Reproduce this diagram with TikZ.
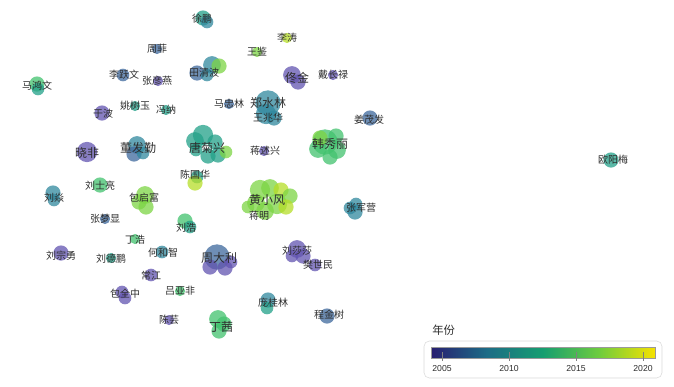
\documentclass[tikz,border=0pt]{standalone}
\usepackage{fontspec}
\setsansfont{Liberation Sans}
\newfontfamily\cjk{Noto Sans CJK SC}
\usepackage{tikz}
\usetikzlibrary{positioning}

\definecolor{vA}{RGB}{98,84,176}
\definecolor{vB}{RGB}{62,104,156}
\definecolor{vC}{RGB}{48,136,158}
\definecolor{vD}{RGB}{34,160,136}
\definecolor{vE}{RGB}{66,194,110}
\definecolor{vF}{RGB}{124,212,68}
\definecolor{vG}{RGB}{182,222,40}
\definecolor{bar0}{RGB}{40,30,112}
\definecolor{bar1}{RGB}{28,108,134}
\definecolor{bar2}{RGB}{22,158,112}
\definecolor{bar3}{RGB}{110,204,62}
\definecolor{bar4}{RGB}{246,226,0}
\definecolor{txt}{RGB}{45,45,45}

\pgfdeclarehorizontalshading{yearbar}{100bp}{color(0bp)=(bar0); color(25bp)=(bar0);
  color(37.5bp)=(bar1); color(50bp)=(bar2); color(62.5bp)=(bar3); color(75bp)=(bar4); color(100bp)=(bar4)}

\begin{document}
\begin{tikzpicture}[
    x=0.75pt, y=-0.75pt,
    bubble/.style={fill=#1, fill opacity=0.75, draw=none},
    authorlbl/.style={font=\cjk\fontsize{7.5}{8}\selectfont, text=txt, inner sep=0pt},
    biglbl/.style={font=\cjk\fontsize{9}{10}\selectfont, text=txt, inner sep=0pt},
    ticklbl/.style={font=\sffamily\fontsize{6.5}{7}\selectfont, text=txt, inner sep=0pt}
]

\useasboundingbox (0,0) rectangle (674,386);

% bubbles: x/y/radius/colour
\foreach \x/\y/\r/\c in {
    203/18/6/vD, 207/22/5/vC,
    157/49/4/vB, 123/75/5/vB, 158/81/4/vA,
    212/65/7/vC, 219/66/6/vF, 197/73/6/vB, 207/75/5/vC,
    37/84/6/vE, 38/89/5/vD,
    102/113/6/vA, 135/106/4/vD, 166/110/4/vD, 229/104/4/vB,
    268/103/10/vC, 266/114/8/vC, 274/118/6/vC,
    287/38/4/vG, 257/52/4/vF,
    292/75/7/vA, 298/82/6/vA, 333/75/4/vA, 370/118/6/vB,
    87/152/8/vA,
    137/145/7/vC, 134/154/6/vB, 143/153/5/vC,
    203/135/8/vD, 195/141/7/vD, 215/142/6/vD, 208/156/6/vD, 218/155/6/vD, 226/152/5/vF, 196/150/5/vD,
    197/177/5/vD, 195/183/6/vG,
    100/185/6/vE, 53/193/6/vC, 54/200/5/vC,
    145/195/7/vF, 146/207/6/vF, 139/202/6/vF,
    105/219/4/vB, 185/221/6/vE, 190/227/5/vD, 135/239/4/vE,
    162/252/5/vC,
    217/257/10/vB, 210/267/6/vA, 225/268/6/vA, 231/262/5/vA,
    61/253/6/vA, 111/258/4/vD, 151/275/5/vA,
    122/292/5/vA, 125/298/5/vA, 180/291/4/vE, 169/320/4/vA,
    218/319/7/vE, 224/324/6/vE, 219/331/6/vE,
    264/151/4/vA,
    325/142/10/vE, 318/149/7/vE, 337/150/7/vE, 330/157/6/vE, 320/138/6/vF, 336/136/6/vE,
    260/190/8/vF, 270/188/7/vF, 281/190/6/vG, 290/196/6/vF, 256/203/7/vF,
    265/211/7/vF, 277/204/8/vF, 286/207/6/vG, 248/207/5/vF,
    356/204/5/vC, 355/212/6/vC, 350/208/5/vC,
    297/249/7/vA, 303/256/6/vA, 292/256/5/vA, 315/265/5/vA,
    268/300/6/vC, 267/308/5/vD, 327/316/6/vB,
    611/160/6/vD}
    \fill[bubble=\c] (\x,\y) circle[radius=\r*0.95pt];

% author names
\node[authorlbl] (xupeng) at (202,19) {徐鹏};
\node[authorlbl] (zhoufei) at (157,49) {周菲};
\node[authorlbl] (liyuewen) at (124,75) {李跃文};
\node[authorlbl] (zhangyanyan) at (157,81) {张彦燕};
\node[authorlbl] (tianqingbo) at (204,73) {田清波};
\node[authorlbl] (mahongwen) at (37,86) {马鸿文};
\node[authorlbl] (yubo) at (103,114) {于波};
\node[authorlbl] (yaoshuyu) at (135,106) {姚树玉};
\node[authorlbl] (fengna) at (166,110) {冯纳};
\node[authorlbl] (mazhonglin) at (229,104) {马忠林};
\node[biglbl] (zhengshuilin) at (268,103) {郑水林};
\node[authorlbl] (wangzhaohua) at (268,118) {王兆华};
\node[authorlbl] (litao) at (287,38) {李涛};
\node[authorlbl] (wangjian) at (257,52) {王鉴};
\node[biglbl] (tongjin) at (297,78) {佟金};
\node[authorlbl] (daichanglu) at (333,75) {戴长禄};
\node[authorlbl] (jiangmaofa) at (369,120) {姜茂发};
\node[biglbl] (xiaofei) at (87,153) {晓非};
\node[biglbl] (dongfaqin) at (138,148) {董发勤};
\node[biglbl] (tangjuxing) at (207,148) {唐菊兴};
\node[authorlbl] (chenguohua) at (195,175) {陈国华};
\node[authorlbl] (liushiliang) at (100,186) {刘士亮};
\node[authorlbl] (liuyan) at (54,198) {刘焱};
\node[authorlbl] (baoqifu) at (144,198) {包启富};
\node[authorlbl] (zhangmengxian) at (105,219) {张梦显};
\node[authorlbl] (liuhao) at (186,228) {刘浩};
\node[authorlbl] (dinghao) at (135,240) {丁浩};
\node[authorlbl] (hehezhi) at (163,253) {何和智};
\node[biglbl] (zhoudali) at (219,258) {周大利};
\node[authorlbl] (liuzongyong) at (61,256) {刘宗勇};
\node[authorlbl] (liudepeng) at (111,259) {刘德鹏};
\node[authorlbl] (changjiang) at (151,276) {常江};
\node[authorlbl] (baoquanzhong) at (125,294) {包全中};
\node[authorlbl] (lvyafei) at (180,291) {吕亚非};
\node[authorlbl] (chenyun) at (169,320) {陈芸};
\node[biglbl] (dingqian) at (221,327) {丁茜};
\node[authorlbl] (jiangshuxing) at (265,151) {蒋述兴};
\node[biglbl] (hanxiuli) at (330,144) {韩秀丽};
\node[biglbl] (huangxiaofeng) at (267,200) {黄小风};
\node[authorlbl] (jiangming) at (259,216) {蒋明};
\node[authorlbl] (zhangjunying) at (361,208) {张军营};
\node[authorlbl] (liushasha) at (297,251) {刘莎莎};
\node[authorlbl] (fanshimin) at (318,265) {樊世民};
\node[authorlbl] (panggui) at (273,303) {庞桂林};
\node[authorlbl] (chengjinshu) at (329,315) {程金树};
\node[authorlbl] (ouyangmei) at (613,160) {欧阳梅};

% legend
\node[authorlbl, font=\cjk\fontsize{8.5}{9}\selectfont, anchor=west] (legtitle) at (432,330) {年份};
\draw[black!15, rounded corners=4pt, fill=white] (424,341) rectangle (662,378);
\shade[shading=yearbar, draw=black!40, line width=0.3pt] (431,347) rectangle (655,358);
\foreach \yr/\px in {2005/442, 2010/509, 2015/576, 2020/643} {
    \draw[black!50, line width=0.4pt] (\px,352) -- (\px,361);
    \node[ticklbl] at (\px,369) {\yr};
}

\end{tikzpicture}
\end{document}
